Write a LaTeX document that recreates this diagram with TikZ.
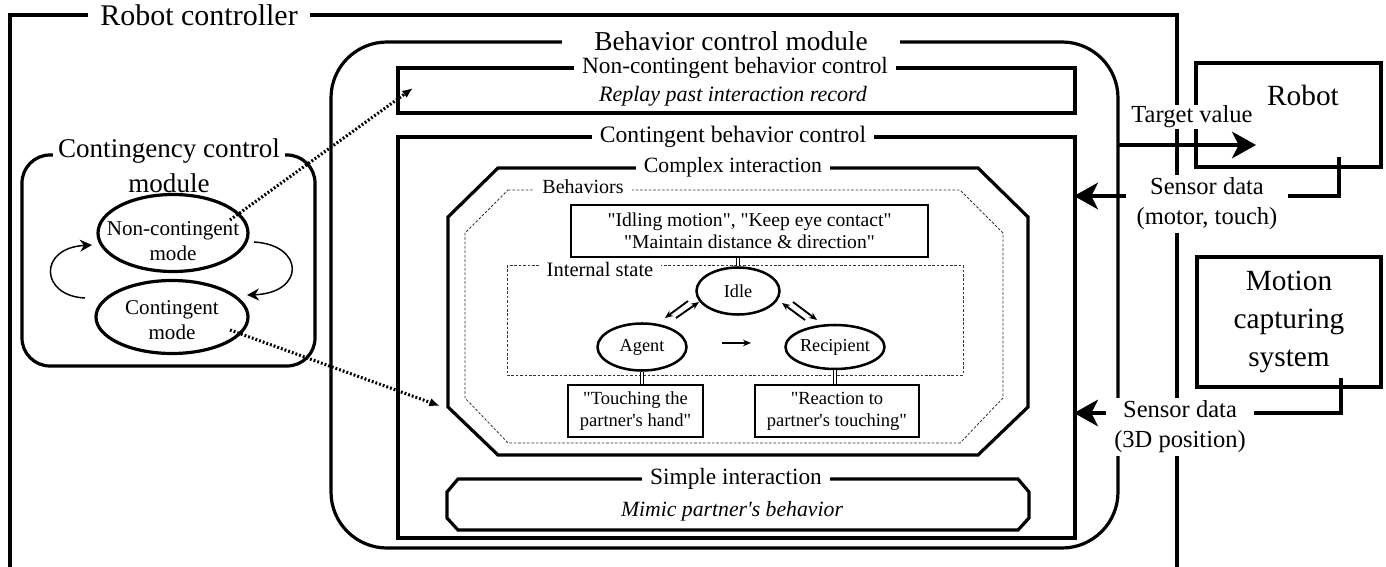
\documentclass[tikz,border=0pt]{standalone}
\usepackage{fontspec}
\setmainfont{Liberation Serif}[Ligatures=TeXOff]
\usetikzlibrary{arrows.meta,shapes.geometric}
\begin{document}
\begin{tikzpicture}[x=0.75pt,y=-0.75pt,
  heavy/.style={line width=2.4pt},
  dashbox/.style={line width=0.6pt,dash pattern=on 2pt off 1.3pt,black!80},
  ttl/.style={fill=white,inner ysep=0.5pt,inner xsep=6pt},
  stateell/.style={ellipse,draw,line width=1.9pt,inner sep=0pt,font=\fontsize{13.7}{16}\selectfont},
  behbox/.style={draw,line width=2pt,inner sep=0pt,align=center,font=\fontsize{13.9}{16.5}\selectfont},
  modeell/.style={ellipse,draw,line width=2.4pt,inner sep=0pt},
  modetxt/.style={align=center,font=\fontsize{15.8}{18.75}\selectfont},
  statearr/.style={line width=1.4pt,-{Stealth[length=6pt,width=5pt]}},
  dbl/.style={double,double distance=1.6pt,line width=0.6pt},
  dotarr/.style={line width=2.3pt,dash pattern=on 1.4pt off 1.5pt,-{Latex[length=8pt,width=6.5pt]}},
  loopar/.style={line width=1.1pt,-{Stealth[length=9pt,width=9pt]}},
  sigarr/.style={line width=2.4pt,-{Stealth[length=18pt,width=20pt,inset=5pt]}},
  siglbl/.style={fill=white,align=center,inner xsep=6pt,inner ysep=2pt,font=\fontsize{18.4}{22.5}\selectfont},
  ext/.style={draw,line width=2.4pt,inner sep=0pt,align=center,font=\fontsize{22}{28.5}\selectfont},
]
\useasboundingbox (0,0) rectangle (1386,567);

% Robot controller
\draw[heavy] (10,567) -- (10,15) -- (1177,15) -- (1177,567);
\node[ttl,inner xsep=9pt,font=\fontsize{22.5}{27}\selectfont] (rctl) at (199,15) {Robot controller};

% Behavior control module
\draw[heavy,rounded corners=42pt] (331,42) rectangle (1118,548);
\node[ttl,inner xsep=24pt,font=\fontsize{20.5}{24}\selectfont] (bcm) at (731,41) {Behavior control module};

% Non-contingent behavior control
\draw[heavy] (398,68) rectangle (1075,113);
\node[ttl,font=\fontsize{17.5}{21}\selectfont] (nct) at (735,68) {Non-contingent behavior control};
\node[font=\fontsize{16.5}{20}\selectfont\itshape] (ncs) at (733,96) {Replay past interaction record};

% Contingent behavior control
\draw[heavy] (398,137) rectangle (1075,538);
\node[ttl,font=\fontsize{17.7}{21}\selectfont] (cbt) at (733,137) {Contingent behavior control};

% Complex interaction
\draw[heavy] (498,168) -- (978,168) -- (1028,217) -- (1028,407) -- (978,455) -- (498,455) -- (448,407) -- (448,217) -- cycle;
\node[ttl,font=\fontsize{16.3}{20}\selectfont] (cit) at (733,167) {Complex interaction};

% Behaviors
\draw[dashbox] (508,190) -- (960,190) -- (1003,233) -- (1003,398) -- (960,443) -- (508,443) -- (465,398) -- (465,233) -- cycle;
\node[ttl,font=\fontsize{15}{18}\selectfont] (bhv) at (583,187) {Behaviors};

% Internal state
\draw[dashbox] (507,265) rectangle (963,375);
\node[ttl,font=\fontsize{15.4}{18}\selectfont] (ist) at (600,269) {Internal state};

\node[behbox,minimum width=267.75pt,minimum height=39pt,font=\fontsize{14.7}{16.5}\selectfont] (idlebeh) at (749.5,231) {"Idling motion", "Keep eye contact"\\"Maintain distance \& direction"};
\node[stateell,minimum width=62.25pt,minimum height=35.25pt] (idle) at (738,291) {Idle};
\node[stateell,minimum width=66.75pt,minimum height=35.25pt] (agent) at (642,347) {Agent};
\node[stateell,minimum width=73.5pt,minimum height=33pt] (recip) at (835,347) {Recipient};
\node[behbox,minimum width=101.25pt,minimum height=39pt] (touch) at (635.5,411) {"Touching the\\partner's hand"};
\node[behbox,minimum width=123pt,minimum height=39pt] (react) at (837,411) {"Reaction to\\partner's touching"};

\draw[dbl] (idle.north) -- (idle.north |- idlebeh.south);
\draw[dbl] (agent.south) -- (agent.south |- touch.north);
\draw[dbl] (recip.south) -- (recip.south |- react.north);

\coordinate (ia1) at (688,301); \coordinate (ia2) at (665,318);
\coordinate (ai1) at (676,318); \coordinate (ai2) at (699,302);
\coordinate (ri1) at (805,320); \coordinate (ri2) at (782,303);
\coordinate (ir1) at (793,302); \coordinate (ir2) at (817,320);
\coordinate (ar1) at (722,343); \coordinate (ar2) at (751,343);
\draw[statearr] (ia1) -- (ia2);
\draw[statearr] (ai1) -- (ai2);
\draw[statearr] (ri1) -- (ri2);
\draw[statearr] (ir1) -- (ir2);
\draw[statearr] (ar1) -- (ar2);

% Simple interaction
\draw[heavy] (458,479) -- (1018,479) -- (1029,492) -- (1029,518) -- (1018,530) -- (458,530) -- (447,518) -- (447,492) -- cycle;
\node[ttl,font=\fontsize{17.5}{21}\selectfont] (sit) at (736,479) {Simple interaction};
\node[font=\fontsize{16.3}{20}\selectfont\itshape] (sis) at (732,511) {Mimic partner's behavior};

% Contingency control module
\draw[heavy,rounded corners=21pt] (22,155) rectangle (315,366);
\node[ttl,inner xsep=4pt,font=\fontsize{20.3}{24}\selectfont] (ccm1) at (169,151) {Contingency control};
\node[font=\fontsize{20.3}{24}\selectfont] (ccm2) at (169,183) {module};
\node[modeell,minimum width=112.5pt,minimum height=57.75pt] (ncm) at (173,233) {};
\node[modetxt] (ncmt) at (173,241) {Non-contingent\\mode};
\node[modeell,minimum width=114pt,minimum height=54.75pt] (cm) at (172,317) {};
\node[modetxt] (cmt) at (172,320) {Contingent\\mode};

\coordinate (l1s) at (85,298); \coordinate (l1e) at (92,245);
\coordinate (l2s) at (254,242); \coordinate (l2e) at (247,295);
\draw[loopar] (l1s) .. controls (40,296) and (38,248) .. (l1e);
\draw[loopar] (l2s) .. controls (305,245) and (305,293) .. (l2e);

\coordinate (d1s) at (230,220); \coordinate (d1e) at (413,88);
\coordinate (d2s) at (230,330); \coordinate (d2e) at (440,406);
\draw[dotarr] (d1s) -- (d1e);
\draw[dotarr] (d2s) -- (d2e);

% External systems
\node[ext,minimum width=138.75pt,minimum height=78pt] (robot) at (1288.5,115) {};
\node[font=\fontsize{22}{26}\selectfont] (robottxt) at (1303,95) {Robot};
\node[ext,minimum width=138pt,minimum height=97.5pt] (mocap) at (1289,322) {Motion\\capturing\\system};

\coordinate (tvs) at (1118,145); \coordinate (tve) at (1256,145);
\draw[sigarr] (tvs) -- (tve);
\node[fill=white,inner sep=1pt,font=\fontsize{18.4}{22}\selectfont] (tvl) at (1192,117) {Target value};

\coordinate (s1a) at (1339,157); \coordinate (s1b) at (1339,196); \coordinate (s1c) at (1074,196);
\draw[sigarr] (s1a) -- (s1b) -- (s1c);
\node[siglbl,inner xsep=8pt] (s1l) at (1207,204) {Sensor data\\(motor, touch)};

\coordinate (s2a) at (1341,378); \coordinate (s2b) at (1341,413); \coordinate (s2c) at (1074,413);
\draw[sigarr] (s2a) -- (s2b) -- (s2c);
\node[siglbl] (s2l) at (1180,427) {Sensor data\\(3D position)};
\end{tikzpicture}
\end{document}
